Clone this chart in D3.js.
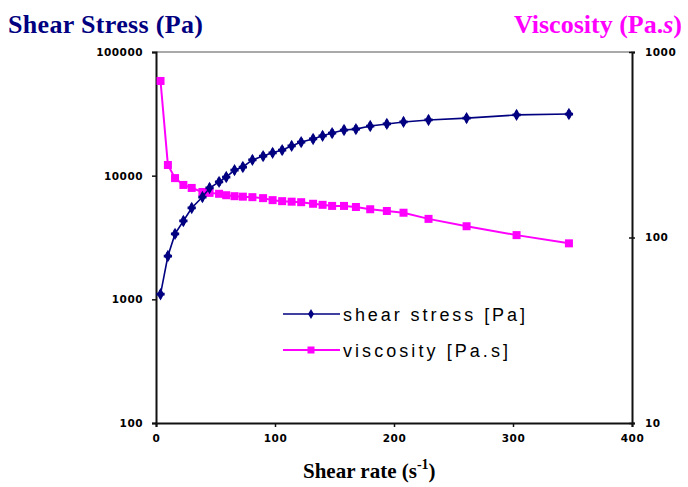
<!DOCTYPE html>
<html>
<head>
<meta charset="utf-8">
<script src="https://cdn.jsdelivr.net/npm/d3@7"></script>
<style>
  body { margin: 0; background: #fff; }
  svg { display: block; }
</style>
</head>
<body>
<svg></svg>
<script>
// chart size
const width = 688;
const height = 487;

// data
const shearRate = [3.8, 10, 16, 23, 30, 39, 45, 53, 59, 66, 73, 81, 90, 98, 106, 114, 122, 132, 140, 148, 158, 168, 180, 194, 208, 229, 261, 303, 347];
const shearStress = [1100, 2240, 3380, 4300, 5480, 6720, 7950, 8900, 9750, 11100, 11750, 13400, 14400, 15300, 16100, 17400, 18700, 19800, 21000, 22100, 23400, 23800, 25200, 26200, 27200, 28200, 29200, 31000, 31500];
const viscosity = [698, 246, 209, 192, 185, 176, 174, 172, 169, 167, 166, 165, 163, 159, 157, 156, 155, 152, 150, 148, 148, 146, 142, 139, 136, 126, 115, 103, 93];

const xTicks = [0, 100, 200, 300, 400];
const leftTicks = [100, 1000, 10000, 100000];
const rightTicks = [10, 100, 1000];

const navy = '#000080';
const pink = '#ff00ff';

const svg = d3.select('svg')
  .attr('width', width)
  .attr('height', height);

svg.append('rect')
  .attr('width', width)
  .attr('height', height)
  .attr('fill', '#fff');

// plot area
const plotL = 156, plotR = 632, plotT = 52, plotB = 423;

//scales
const x = d3.scaleLinear().domain([0, 400]).range([plotL, plotR]);
const yL = d3.scaleLog().domain([100, 100000]).range([plotB, plotT]);
const yR = d3.scaleLog().domain([10, 1000]).range([plotB, plotT]);

// top border of plot area
svg.append('line')
  .attr('x1', plotL).attr('x2', plotR)
  .attr('y1', plotT).attr('y2', plotT)
  .attr('stroke', '#555').attr('stroke-width', 1.2);

const tickFont = g => g
  .attr('font-family', 'DejaVu Sans, sans-serif')
  .attr('font-size', 10.5)
  .attr('font-weight', 'bold')
  .attr('letter-spacing', 0.5)
  .attr('fill', '#000');

//left axis
const gl = svg.append('g')
  .attr('transform', `translate(${plotL},0)`)
  .call(d3.axisLeft(yL).tickValues(leftTicks).tickFormat(d3.format('d')).tickSize(4).tickPadding(9));
gl.selectAll('text').call(tickFont);

//right axis
const gr = svg.append('g')
  .attr('transform', `translate(${plotR},0)`)
  .call(d3.axisRight(yR).tickValues(rightTicks).tickFormat(d3.format('d')).tickSize(3).tickPadding(10));
gr.selectAll('.tick line').attr('x1', -3);
gr.selectAll('text').call(tickFont);

//bottom axis
const gb = svg.append('g')
  .attr('transform', `translate(0,${plotB})`)
  .call(d3.axisBottom(x).tickValues(xTicks).tickFormat(d3.format('d')).tickSize(4).tickPadding(8));
gb.selectAll('text').call(tickFont);

[gl, gr, gb].forEach(g => {
  g.select('.domain').attr('stroke', '#111').attr('stroke-width', 2);
  g.selectAll('.tick line').attr('stroke', '#111').attr('stroke-width', 1.5);
  g.attr('font-family', null).attr('font-size', null);
});

// series
const stressPts = shearRate.map((r, i) => [r, shearStress[i]]);
const viscPts = shearRate.map((r, i) => [r, viscosity[i]]);

const stressLine = d3.line().x(d => x(d[0])).y(d => yL(d[1]));
const viscLine = d3.line().x(d => x(d[0])).y(d => yR(d[1]));

svg.append('path')
  .datum(viscPts)
  .attr('d', viscLine)
  .attr('fill', 'none')
  .attr('stroke', pink)
  .attr('stroke-width', 2);

const sq = 8;
svg.selectAll('rect.visc')
  .data(viscPts)
  .enter().append('rect')
  .attr('class', 'visc')
  .attr('x', d => x(d[0]) - sq / 2)
  .attr('y', d => yR(d[1]) - sq / 2)
  .attr('width', sq)
  .attr('height', sq)
  .attr('fill', pink);

svg.append('path')
  .datum(stressPts)
  .attr('d', stressLine)
  .attr('fill', 'none')
  .attr('stroke', navy)
  .attr('stroke-width', 1.6);

const diamond = d3.symbol().type(d3.symbolDiamond).size(44);
const cross = d3.symbol().type(d3.symbolCross).size(38);

const marks = svg.selectAll('g.stress')
  .data(stressPts)
  .enter().append('g')
  .attr('class', 'stress')
  .attr('transform', d => `translate(${x(d[0])},${yL(d[1])})`);
marks.append('path').attr('d', diamond).attr('fill', navy);
marks.append('path').attr('d', cross).attr('fill', navy);

//legend
const legend = svg.append('g');
legend.append('line')
  .attr('x1', 283).attr('x2', 340).attr('y1', 314).attr('y2', 314)
  .attr('stroke', navy).attr('stroke-width', 1.6);
legend.append('path')
  .attr('transform', 'translate(311,314)')
  .attr('d', d3.symbol().type(d3.symbolDiamond).size(30)).attr('fill', navy);
legend.append('text')
  .attr('x', 343).attr('y', 321)
  .attr('font-family', 'Liberation Sans, Arial, sans-serif')
  .attr('font-size', 18)
  .attr('textLength', 182)
  .attr('fill', '#000')
  .text('shear stress [Pa]');

legend.append('line')
  .attr('x1', 283).attr('x2', 340).attr('y1', 350).attr('y2', 350)
  .attr('stroke', pink).attr('stroke-width', 2);
legend.append('rect')
  .attr('x', 307.5).attr('y', 346.5).attr('width', 7).attr('height', 7)
  .attr('fill', pink);
legend.append('text')
  .attr('x', 343).attr('y', 357)
  .attr('font-family', 'Liberation Sans, Arial, sans-serif')
  .attr('font-size', 18)
  .attr('textLength', 165)
  .attr('fill', '#000')
  .text('viscosity [Pa.s]');

// titles
svg.append('text')
  .attr('x', 8).attr('y', 33)
  .attr('font-family', 'Liberation Serif, Times New Roman, serif')
  .attr('font-weight', 'bold')
  .attr('font-size', 26)
  .attr('textLength', 195)
  .attr('fill', navy)
  .text('Shear Stress (Pa)');

const vt = svg.append('text')
  .attr('x', 682).attr('y', 33)
  .attr('text-anchor', 'end')
  .attr('font-family', 'Liberation Serif, Times New Roman, serif')
  .attr('font-weight', 'bold')
  .attr('font-size', 26)
  .attr('fill', pink);
vt.append('tspan').text('Viscosity (Pa.');
vt.append('tspan').attr('font-style', 'italic').text('s');
vt.append('tspan').text(')');

const xt = svg.append('text')
  .attr('x', 303).attr('y', 478)
  .attr('font-family', 'Liberation Serif, Times New Roman, serif')
  .attr('font-weight', 'bold')
  .attr('font-size', 21)
  .attr('fill', '#000');
xt.append('tspan').text('Shear rate (s');
xt.append('tspan').attr('font-size', 14).attr('dy', -9).text('-1');
xt.append('tspan').attr('dy', 9).text(')');
</script>
</body>
</html>
